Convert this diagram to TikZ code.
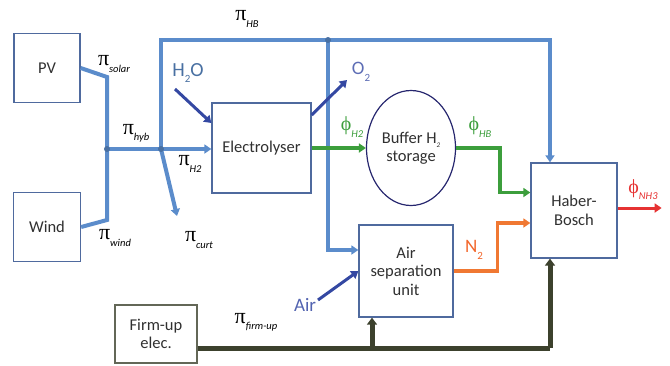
\documentclass[tikz,border=0pt]{standalone}
\usepackage{fontspec}
\setmainfont{Carlito}
\newfontfamily\grk{Liberation Serif}
\usepackage{tikz}
\usetikzlibrary{positioning, arrows.meta, shapes.geometric}

\definecolor{pblue}{HTML}{5B8CCB}
\definecolor{boxline}{HTML}{4F6A9E}
\definecolor{dblue}{HTML}{3448A2}
\definecolor{hgreen}{HTML}{3C9E3C}
\definecolor{norange}{HTML}{F07832}
\definecolor{ared}{HTML}{E63232}
\definecolor{olive}{HTML}{3C412D}
\definecolor{txt}{HTML}{303030}

\newcommand{\pisub}[1]{{\grk\fontsize{22}{22}\selectfont π}\raisebox{-0.8ex}{\fontsize{10.5}{10.5}\selectfont\itshape #1}}
\newcommand{\phisub}[1]{{\grk\fontsize{20}{20}\selectfont ϕ}\raisebox{-0.8ex}{\fontsize{10.5}{10.5}\selectfont\itshape #1}}

\begin{document}
\begin{tikzpicture}[x=1pt, y=-1pt,
    unit/.style={draw=boxline, line width=1.3pt, rectangle, text=txt, font=\fontsize{16.5}{18.5}\selectfont, align=center, inner sep=0pt},
    tank/.style={draw=black!60!blue!70!gray, line width=1.2pt, ellipse, text=txt, font=\fontsize{16.5}{18.5}\selectfont, align=center, inner sep=0pt},
    lbl/.style={font=\fontsize{16}{18}\selectfont, inner sep=0pt},
    pline/.style={draw=pblue, line width=4pt, -{Triangle[length=7pt, width=9pt]}},
    gline/.style={draw=hgreen, line width=3.5pt, -{Triangle[length=7pt, width=9pt]}},
    oline/.style={draw=norange, line width=3.5pt, -{Triangle[length=7pt, width=9pt]}},
    rline/.style={draw=ared, line width=3pt, -{Triangle[length=7pt, width=9pt]}},
    fline/.style={draw=olive, line width=5pt, -{Triangle[length=7pt, width=10pt]}},
    feed/.style={draw=dblue, line width=3pt, -{Triangle[length=7pt, width=9pt]}},
    jdot/.style={fill=pblue!80!black, circle, inner sep=0pt, minimum size=6pt},
]
\useasboundingbox (0,0) rectangle (670,365);

% units
\node[unit, minimum width=66pt, minimum height=69pt] (pv) at (47,68) {PV};
\node[unit, minimum width=67pt, minimum height=69pt] (wind) at (47,227) {Wind};
\node[unit, minimum width=99pt, minimum height=90pt] (elec) at (261.5,148) {Electrolyser};
\node[tank, minimum width=89pt, minimum height=115pt] (buf) at (411,148) {Buffer H\raisebox{-0.6ex}{\fontsize{7}{7}\selectfont\itshape 2}\\storage};
\node[unit, minimum width=94pt, minimum height=92pt] (asu) at (406,271) {Air\\separation\\unit};
\node[unit, minimum width=86pt, minimum height=95pt] (hb) at (574,210.5) {Haber-\\Bosch};
\node[unit, draw=olive!80, minimum width=82pt, minimum height=58pt] (firm) at (156,334) {Firm-up\\elec.};

% junctions
\coordinate (sb) at (107,77);
\coordinate (wb) at (107,220);
\coordinate (hyb) at (107,149);
\coordinate (j1) at (161,149);
\coordinate (tl) at (161,40);
\coordinate (j2) at (328,40);
\coordinate (tr) at (550,40);
\coordinate (curt) at (177,216);
\coordinate (h2oin) at (175,89);
\coordinate (o2out) at (347,80);
\coordinate (airin) at (318,300);
\coordinate (fa) at (372,348);
\coordinate (fb) at (550,348);

% electricity
\draw[pline, -] (pv.east) -- (sb) -- (wb) -- (wind.east);
\draw[pline] (hyb) -- (elec.west |- hyb);
\draw[pline] (j1) -- (tl) -- (tr) -- (tr |- hb.north);
\draw[pline] (j2) |- ([yshift=21pt]asu.west);
\draw[pline] (j1) -- (curt);
\draw[fline, -] ([yshift=-14pt]firm.east) -- (fb);
\draw[fline] (fa) -- (fa |- asu.south);
\draw[fline] (fb) -- (fb |- hb.south);

% material flows
\draw[feed] (h2oin) -- ([yshift=25pt]elec.west);
\draw[feed] ([yshift=33pt]elec.east) -- (o2out);
\draw[feed] (airin) -- (asu.west);
\draw[gline] (elec.east) -- (buf.west);
\draw[gline] (buf.east) -- ++(44,0) |- ([yshift=18pt]hb.west);
\draw[oline] (asu.east) -- ++(44,0) |- ([yshift=-12.5pt]hb.west);
\draw[rline] (hb.east) ++(0,-2.5) -- ++(44,0);

\node[jdot] (d1) at (hyb) {};
\node[jdot] (d2) at (j1) {};
\node[jdot] (d3) at (j2) {};

% labels
\node[lbl] (lhb) at (247,19) {\pisub{HB}};
\node[lbl] (lsolar) at (114,64) {\pisub{solar}};
\node[lbl] (lhyb) at (136,133) {\pisub{hyb}};
\node[lbl] (lh2) at (190,164) {\pisub{H2}};
\node[lbl] (lwind) at (115,238) {\pisub{wind}};
\node[lbl] (lcurt) at (199,240) {\pisub{curt}};
\node[lbl] (lfirm) at (256,322) {\pisub{firm-up}};
\node[lbl, text=hgreen] (lphih2) at (352,127) {\phisub{H2}};
\node[lbl, text=hgreen] (lphihb) at (480,127) {\phisub{HB}};
\node[lbl, text=ared] (lnh3) at (643,190) {\phisub{NH3}};
\node[lbl, text=norange!85!red, font=\fontsize{19}{19}\selectfont] (ln2) at (474,250) {N\raisebox{-0.7ex}{\fontsize{11}{11}\selectfont 2}};
\node[lbl, text=pblue!80!black, font=\fontsize{20}{20}\selectfont] (lh2o) at (188,73) {H\raisebox{-0.7ex}{\fontsize{11}{11}\selectfont 2}O};
\node[lbl, text=dblue!80, font=\fontsize{19}{19}\selectfont] (lo2) at (361,72) {O\raisebox{-0.7ex}{\fontsize{11}{11}\selectfont 2}};
\node[lbl, text=dblue!85, font=\fontsize{19}{19}\selectfont] (lair) at (305,305) {Air};
\end{tikzpicture}
\end{document}
